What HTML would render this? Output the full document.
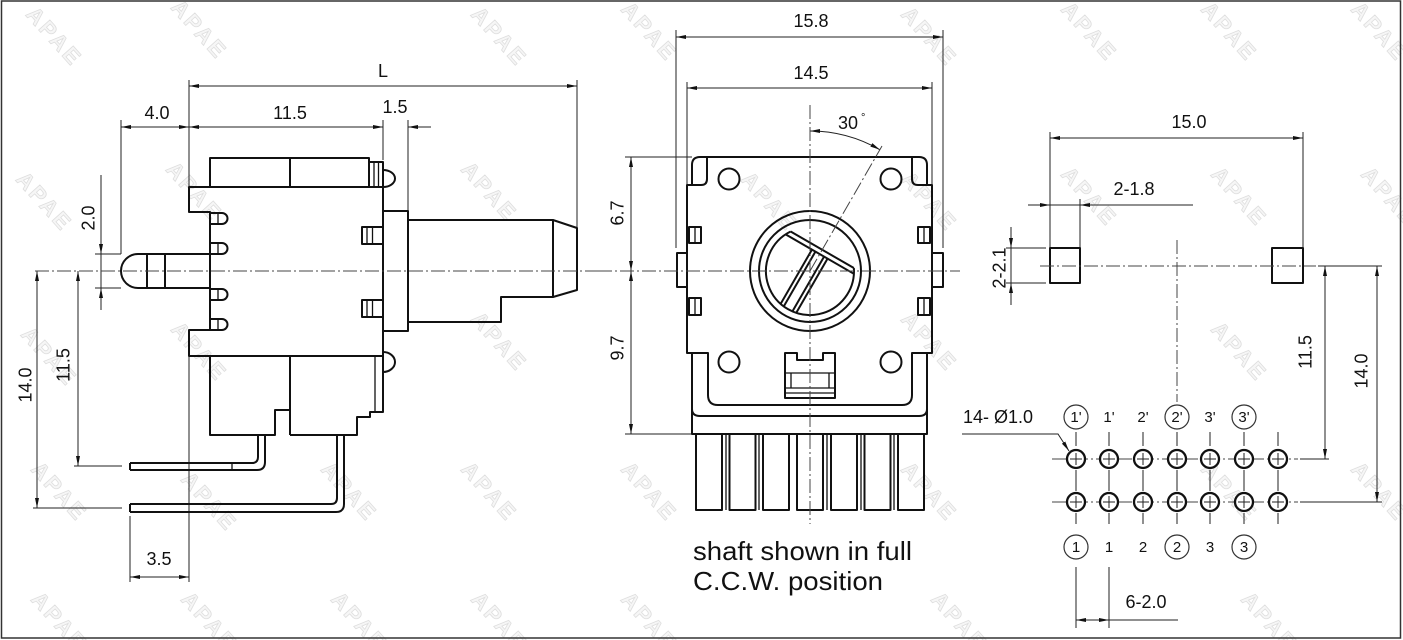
<!DOCTYPE html>
<html><head><meta charset="utf-8"><style>
html,body{margin:0;padding:0;background:#fff;}
svg{display:block;}
text{font-family:"Liberation Sans",Arial,sans-serif;fill:#111;}
.o{stroke:#111;stroke-width:2;fill:none;stroke-linejoin:round;}
.t{stroke:#111;stroke-width:1.3;fill:none;}
.d{stroke:#222;stroke-width:1;fill:none;}
.c{stroke:#444;stroke-width:1;fill:none;stroke-dasharray:14 3 2 3;}
.w{font-size:22px;font-weight:bold;fill:#f6f6f6;stroke:#dedede;stroke-width:0.8;letter-spacing:3px;}
.dim{font-size:18px;}
</style></head><body>
<svg width="1403" height="640" viewBox="0 0 1403 640" xmlns="http://www.w3.org/2000/svg">
<defs>
<marker id="a" viewBox="0 0 10 4" refX="10" refY="2" markerWidth="10" markerHeight="4" markerUnits="userSpaceOnUse" orient="auto-start-reverse" preserveAspectRatio="none"><path d="M0,0 L10,2 L0,4 z" fill="#111"/></marker>
</defs>
<rect width="1403" height="640" fill="#fff"/>

<!-- watermarks -->
<g>
<text class="w" transform="translate(25,15) rotate(48)">APAE</text>
<text class="w" transform="translate(170,8) rotate(48)">APAE</text>
<text class="w" transform="translate(470,15) rotate(48)">APAE</text>
<text class="w" transform="translate(620,10) rotate(48)">APAE</text>
<text class="w" transform="translate(900,15) rotate(48)">APAE</text>
<text class="w" transform="translate(1060,10) rotate(48)">APAE</text>
<text class="w" transform="translate(1200,10) rotate(48)">APAE</text>
<text class="w" transform="translate(1350,10) rotate(48)">APAE</text>
<text class="w" transform="translate(15,180) rotate(48)">APAE</text>
<text class="w" transform="translate(165,170) rotate(48)">APAE</text>
<text class="w" transform="translate(460,170) rotate(48)">APAE</text>
<text class="w" transform="translate(740,180) rotate(48)">APAE</text>
<text class="w" transform="translate(900,180) rotate(48)">APAE</text>
<text class="w" transform="translate(1060,175) rotate(48)">APAE</text>
<text class="w" transform="translate(1210,175) rotate(48)">APAE</text>
<text class="w" transform="translate(1360,175) rotate(48)">APAE</text>
<text class="w" transform="translate(20,335) rotate(48)">APAE</text>
<text class="w" transform="translate(170,330) rotate(48)">APAE</text>
<text class="w" transform="translate(470,320) rotate(48)">APAE</text>
<text class="w" transform="translate(900,320) rotate(48)">APAE</text>
<text class="w" transform="translate(1210,330) rotate(48)">APAE</text>
<text class="w" transform="translate(30,470) rotate(48)">APAE</text>
<text class="w" transform="translate(180,480) rotate(48)">APAE</text>
<text class="w" transform="translate(320,470) rotate(48)">APAE</text>
<text class="w" transform="translate(460,470) rotate(48)">APAE</text>
<text class="w" transform="translate(620,470) rotate(48)">APAE</text>
<text class="w" transform="translate(900,470) rotate(48)">APAE</text>
<text class="w" transform="translate(1200,470) rotate(48)">APAE</text>
<text class="w" transform="translate(1350,470) rotate(48)">APAE</text>
<text class="w" transform="translate(30,600) rotate(48)">APAE</text>
<text class="w" transform="translate(180,600) rotate(48)">APAE</text>
<text class="w" transform="translate(330,600) rotate(48)">APAE</text>
<text class="w" transform="translate(470,600) rotate(48)">APAE</text>
<text class="w" transform="translate(620,600) rotate(48)">APAE</text>
<text class="w" transform="translate(930,600) rotate(48)">APAE</text>
<text class="w" transform="translate(1240,600) rotate(48)">APAE</text>
</g>

<!-- border -->
<rect x="1.5" y="1" width="1399" height="637" fill="none" stroke="#333" stroke-width="1.5"/>

<!-- ================= LEFT VIEW ================= -->
<line class="d" x1="121" y1="120" x2="121" y2="254"/>
<line class="d" x1="189" y1="80" x2="189" y2="212"/>
<line class="d" x1="189" y1="330" x2="189" y2="582"/>
<line class="d" x1="383" y1="120" x2="383" y2="160"/>
<line class="d" x1="408" y1="120" x2="408" y2="211"/>
<line class="d" x1="577" y1="80" x2="577" y2="228"/>
<line class="d" x1="189" y1="86" x2="577" y2="86" marker-start="url(#a)" marker-end="url(#a)"/>
<text class="dim" x="383" y="77" text-anchor="middle">L</text>
<line class="d" x1="121" y1="127" x2="189" y2="127" marker-start="url(#a)" marker-end="url(#a)"/>
<text class="dim" x="157" y="119" text-anchor="middle">4.0</text>
<line class="d" x1="189" y1="127" x2="383" y2="127" marker-start="url(#a)" marker-end="url(#a)"/>
<text class="dim" x="290" y="119" text-anchor="middle">11.5</text>
<line class="d" x1="431" y1="127" x2="408" y2="127" marker-end="url(#a)"/>
<text class="dim" x="395" y="113" text-anchor="middle">1.5</text>

<line class="d" x1="95" y1="254" x2="121" y2="254"/>
<line class="d" x1="95" y1="288" x2="121" y2="288"/>
<line class="d" x1="101" y1="175" x2="101" y2="254" marker-end="url(#a)"/>
<line class="d" x1="101" y1="310" x2="101" y2="288" marker-end="url(#a)"/>
<line class="d" x1="101" y1="254" x2="101" y2="288"/>
<text class="dim" transform="translate(88,218) rotate(-90)" y="6.5" text-anchor="middle">2.0</text>
<line class="d" x1="78" y1="271" x2="78" y2="466" marker-start="url(#a)" marker-end="url(#a)"/>
<line class="d" x1="37" y1="271" x2="37" y2="508" marker-start="url(#a)" marker-end="url(#a)"/>
<line class="d" x1="74" y1="466" x2="122" y2="466"/>
<line class="d" x1="33" y1="508" x2="122" y2="508"/>
<text class="dim" transform="translate(63,365) rotate(-90)" y="6.5" text-anchor="middle">11.5</text>
<text class="dim" transform="translate(25,385) rotate(-90)" y="6.5" text-anchor="middle">14.0</text>
<line class="d" x1="130" y1="516" x2="130" y2="582"/>
<line class="d" x1="130" y1="577" x2="189" y2="577" marker-start="url(#a)" marker-end="url(#a)"/>
<text class="dim" x="159" y="565" text-anchor="middle">3.5</text>

<rect class="o" x="210" y="158" width="159" height="29"/>
<line class="o" x1="290" y1="158" x2="290" y2="187"/>
<rect class="o" x="369" y="162" width="14" height="25"/>
<line class="t" x1="374" y1="162" x2="374" y2="187"/>
<line class="t" x1="378.5" y1="162" x2="378.5" y2="187"/>
<path class="o" d="M383 170 A12 8.5 0 0 1 383 187"/>
<path class="o" d="M383 187 L189 187 L189 212 L210 212 L210 330 L189 330 L189 356 L383 356 Z"/>
<g class="o">
<path d="M210 213 H222 A5.5 5.5 0 0 1 222 224 H210"/>
<path d="M210 243 H222 A5.5 5.5 0 0 1 222 254 H210"/>
<path d="M210 289 H222 A5.5 5.5 0 0 1 222 300 H210"/>
<path d="M210 319 H222 A5.5 5.5 0 0 1 222 330 H210"/>
</g>
<g class="t">
<line x1="218" y1="213" x2="218" y2="224"/><line x1="218" y1="243" x2="218" y2="254"/>
<line x1="218" y1="289" x2="218" y2="300"/><line x1="218" y1="319" x2="218" y2="330"/>
</g>
<path class="o" d="M165 254 L138 254 A17 17 0 0 0 138 288 L165 288 Z"/>
<line class="o" x1="147" y1="254" x2="147" y2="288"/>
<line class="o" x1="165" y1="254" x2="210" y2="254"/>
<line class="o" x1="165" y1="288" x2="210" y2="288"/>
<rect class="o" x="362" y="227" width="21" height="17"/>
<line class="t" x1="367" y1="227" x2="367" y2="244"/><line class="t" x1="372.5" y1="227" x2="372.5" y2="244"/>
<rect class="o" x="362" y="300" width="21" height="17"/>
<line class="t" x1="367" y1="300" x2="367" y2="317"/><line class="t" x1="372.5" y1="300" x2="372.5" y2="317"/>
<rect class="o" x="383" y="211" width="25" height="120"/>
<path class="o" d="M408 220 L553 220 L577 228 L577 290 L553 297 L501 297 L501 322 L408 322"/>
<line class="o" x1="553" y1="220" x2="553" y2="297"/>
<path class="o" d="M210 356 L210 435 L275 435 L275 410 L290 410"/>
<line class="o" x1="290" y1="356" x2="290" y2="435"/>
<path class="o" d="M290 435 L357 435 L357 417 L370 417 L370 412 L383 412 L383 356"/>
<line class="t" x1="375" y1="356" x2="375" y2="412"/>
<path class="o" d="M383 352 A12 10 0 0 1 383 372"/>
<path class="o" d="M130 463 L252 463 Q258 463 258 457 L258 435"/>
<path class="o" d="M130 470 L257 470 Q265 470 265 462 L265 435"/>
<line class="o" x1="130" y1="463" x2="130" y2="470"/>
<line class="t" x1="232" y1="463" x2="232" y2="470"/>
<path class="o" d="M130 504 L331 504 Q337 504 337 498 L337 435"/>
<path class="o" d="M130 512 L336 512 Q344 512 344 504 L344 435"/>
<line class="o" x1="130" y1="504" x2="130" y2="512"/>
<line class="c" x1="35" y1="271" x2="600" y2="271"/>

<!-- ================= MIDDLE VIEW ================= -->
<line class="d" x1="676" y1="30" x2="676" y2="248"/>
<line class="d" x1="943" y1="30" x2="943" y2="248"/>
<line class="d" x1="687" y1="82" x2="687" y2="185"/>
<line class="d" x1="932" y1="82" x2="932" y2="185"/>
<line class="d" x1="676" y1="37" x2="943" y2="37" marker-start="url(#a)" marker-end="url(#a)"/>
<text class="dim" x="811" y="27" text-anchor="middle">15.8</text>
<line class="d" x1="687" y1="88" x2="932" y2="88" marker-start="url(#a)" marker-end="url(#a)"/>
<text class="dim" x="811" y="79" text-anchor="middle">14.5</text>
<line class="d" x1="625" y1="157" x2="692" y2="157"/>
<line class="d" x1="625" y1="434" x2="692" y2="434"/>
<line class="d" x1="631" y1="157" x2="631" y2="271" marker-start="url(#a)" marker-end="url(#a)"/>
<line class="d" x1="631" y1="271" x2="631" y2="434" marker-start="url(#a)" marker-end="url(#a)"/>
<text class="dim" transform="translate(617,213) rotate(-90)" y="6.5" text-anchor="middle">6.7</text>
<text class="dim" transform="translate(617,348) rotate(-90)" y="6.5" text-anchor="middle">9.7</text>
<path class="d" d="M810 131 A140 140 0 0 1 880 149.8" marker-start="url(#a)" marker-end="url(#a)"/>
<text class="dim" x="848" y="129" text-anchor="middle">30</text>
<text x="861" y="121" style="font-size:11px">°</text>

<path class="o" d="M692 434 L692 353 L687 353 L687 185 L692 185 L692 165 Q692 157 700 157 L919 157 Q927 157 927 165 L927 185 L932 185 L932 353 L927 353 L927 434 Z"/>
<path class="o" d="M707 157 L707 179 Q707 185 701 185 L692 185"/>
<path class="o" d="M912 157 L912 179 Q912 185 918 185 L927 185"/>
<path class="o" d="M687 353 L708 353 L708 395 Q708 405 718 405 L902 405 Q912 405 912 395 L912 353 L932 353"/>
<path class="o" d="M692 409 Q692 416 700 416 L919 416 Q927 416 927 409"/>
<rect class="o" x="677" y="253" width="10" height="34"/>
<rect class="o" x="932" y="253" width="11" height="34"/>
<rect class="o" x="689" y="227" width="12" height="16"/><line class="t" x1="695" y1="227" x2="695" y2="243"/>
<rect class="o" x="689" y="298" width="12" height="17"/><line class="t" x1="695" y1="298" x2="695" y2="315"/>
<rect class="o" x="918" y="227" width="12" height="16"/><line class="t" x1="924" y1="227" x2="924" y2="243"/>
<rect class="o" x="918" y="298" width="12" height="17"/><line class="t" x1="924" y1="298" x2="924" y2="315"/>
<circle class="o" cx="729" cy="179" r="10.5"/>
<circle class="o" cx="891" cy="179" r="10.5"/>
<circle class="o" cx="729" cy="362" r="10.5"/>
<circle class="o" cx="891" cy="362" r="10.5"/>
<circle class="o" cx="810" cy="271" r="60"/>
<circle class="o" cx="810" cy="271" r="51"/>
<g transform="translate(810,271) rotate(30)">
<path class="o" d="M-36.5 -24.5 A44 44 0 1 0 36.5 -24.5"/>
<line class="o" x1="-36.5" y1="-24.5" x2="36.5" y2="-24.5"/>
<line class="o" x1="-39.4" y1="-19.5" x2="39.4" y2="-19.5"/>
<line class="o" x1="-9" y1="-19.5" x2="-9" y2="43"/>
<line class="o" x1="-5" y1="-19.5" x2="-5" y2="43.5"/>
<line class="o" x1="5" y1="-19.5" x2="5" y2="43.5"/>
<line class="o" x1="9" y1="-19.5" x2="9" y2="43"/>
</g>
<path class="o" d="M785 398 L785 353 L797 353 L797 360 L823 360 L823 353 L835 353 L835 398 Z"/>
<line class="t" x1="786" y1="373" x2="834" y2="373"/>
<line class="t" x1="786" y1="388" x2="834" y2="388"/>
<line class="t" x1="786" y1="393" x2="834" y2="393"/>
<line class="t" x1="791" y1="373" x2="791" y2="388"/>
<line class="t" x1="829" y1="373" x2="829" y2="388"/>
<g class="o">
<rect x="696" y="434" width="26" height="76"/>
<rect x="729.5" y="434" width="26" height="76"/>
<rect x="763" y="434" width="26" height="76"/>
<rect x="797" y="434" width="26" height="76"/>
<rect x="831" y="434" width="26" height="76"/>
<rect x="864.5" y="434" width="26" height="76"/>
<rect x="898" y="434" width="26" height="76"/>
</g>
<g class="t">
<line x1="726" y1="434" x2="726" y2="510"/>
<line x1="759" y1="434" x2="759" y2="510"/>
<line x1="827" y1="434" x2="827" y2="510"/>
<line x1="861" y1="434" x2="861" y2="510"/>
<line x1="894" y1="434" x2="894" y2="510"/>
</g>
<line class="c" x1="598" y1="271" x2="960" y2="271"/>
<line class="c" x1="810" y1="105" x2="810" y2="524"/>
<line class="c" x1="810" y1="271" x2="882" y2="146"/>
<text x="693" y="560" style="font-size:26px" textLength="219" lengthAdjust="spacingAndGlyphs">shaft shown in full</text>
<text x="693" y="590" style="font-size:26px" textLength="190" lengthAdjust="spacingAndGlyphs">C.C.W. position</text>

<!-- ================= RIGHT VIEW ================= -->
<line class="d" x1="1050" y1="132" x2="1050" y2="248"/>
<line class="d" x1="1303" y1="132" x2="1303" y2="248"/>
<line class="d" x1="1050" y1="138" x2="1303" y2="138" marker-start="url(#a)" marker-end="url(#a)"/>
<text class="dim" x="1189" y="128" text-anchor="middle">15.0</text>
<line class="d" x1="1080" y1="199" x2="1080" y2="248"/>
<line class="d" x1="1028" y1="205" x2="1050" y2="205" marker-end="url(#a)"/>
<line class="d" x1="1193" y1="205" x2="1080" y2="205" marker-end="url(#a)"/>
<line class="d" x1="1050" y1="205" x2="1080" y2="205"/>
<text class="dim" x="1134" y="195" text-anchor="middle">2-1.8</text>
<rect class="o" x="1050" y="248" width="30" height="35"/>
<rect class="o" x="1272" y="248" width="31" height="35"/>
<line class="d" x1="1006" y1="248" x2="1046" y2="248"/>
<line class="d" x1="1006" y1="283" x2="1046" y2="283"/>
<line class="d" x1="1011" y1="227" x2="1011" y2="248" marker-end="url(#a)"/>
<line class="d" x1="1011" y1="305" x2="1011" y2="283" marker-end="url(#a)"/>
<line class="d" x1="1011" y1="248" x2="1011" y2="283"/>
<text class="dim" transform="translate(999,268) rotate(-90)" y="6.5" text-anchor="middle">2-2.1</text>
<line class="c" x1="1040" y1="266" x2="1316" y2="266"/>
<line class="d" x1="1318" y1="266" x2="1382" y2="266"/>
<line class="c" x1="1177" y1="240" x2="1177" y2="402"/>
<line class="d" x1="1325" y1="266" x2="1325" y2="459" marker-start="url(#a)" marker-end="url(#a)"/>
<line class="d" x1="1377" y1="266" x2="1377" y2="502" marker-start="url(#a)" marker-end="url(#a)"/>
<text class="dim" transform="translate(1305,352) rotate(-90)" y="6.5" text-anchor="middle">11.5</text>
<text class="dim" transform="translate(1361,371) rotate(-90)" y="6.5" text-anchor="middle">14.0</text>
<line class="c" x1="1052" y1="459" x2="1298" y2="459"/>
<line class="d" x1="1300" y1="459" x2="1329" y2="459"/>
<line class="c" x1="1052" y1="502" x2="1298" y2="502"/>
<line class="d" x1="1300" y1="502" x2="1382" y2="502"/>
<g>
<g class="d">
<line x1="1076" y1="432" x2="1076" y2="446"/><line x1="1076" y1="470" x2="1076" y2="491"/><line x1="1076" y1="513" x2="1076" y2="524"/>
<line x1="1109" y1="432" x2="1109" y2="446"/><line x1="1109" y1="470" x2="1109" y2="491"/><line x1="1109" y1="513" x2="1109" y2="524"/>
<line x1="1143" y1="432" x2="1143" y2="446"/><line x1="1143" y1="470" x2="1143" y2="491"/><line x1="1143" y1="513" x2="1143" y2="524"/>
<line x1="1177" y1="432" x2="1177" y2="446"/><line x1="1177" y1="470" x2="1177" y2="491"/><line x1="1177" y1="513" x2="1177" y2="524"/>
<line x1="1210" y1="432" x2="1210" y2="446"/><line x1="1210" y1="470" x2="1210" y2="491"/><line x1="1210" y1="513" x2="1210" y2="524"/>
<line x1="1244" y1="432" x2="1244" y2="446"/><line x1="1244" y1="470" x2="1244" y2="491"/><line x1="1244" y1="513" x2="1244" y2="524"/>
<line x1="1278" y1="432" x2="1278" y2="446"/><line x1="1278" y1="470" x2="1278" y2="491"/><line x1="1278" y1="513" x2="1278" y2="524"/>
</g>
<g fill="#fff" stroke="#111" stroke-width="2.3">
<circle cx="1076" cy="459" r="9"/><circle cx="1109" cy="459" r="9"/><circle cx="1143" cy="459" r="9"/><circle cx="1177" cy="459" r="9"/><circle cx="1210" cy="459" r="9"/><circle cx="1244" cy="459" r="9"/><circle cx="1278" cy="459" r="9"/>
<circle cx="1076" cy="502" r="9"/><circle cx="1109" cy="502" r="9"/><circle cx="1143" cy="502" r="9"/><circle cx="1177" cy="502" r="9"/><circle cx="1210" cy="502" r="9"/><circle cx="1244" cy="502" r="9"/><circle cx="1278" cy="502" r="9"/>
</g>
<g class="d">
<path d="M1070 459 H1082 M1076 453 V465 M1103 459 H1115 M1109 453 V465 M1137 459 H1149 M1143 453 V465 M1171 459 H1183 M1177 453 V465 M1204 459 H1216 M1210 453 V465 M1238 459 H1250 M1244 453 V465 M1272 459 H1284 M1278 453 V465"/>
<path d="M1070 502 H1082 M1076 496 V508 M1103 502 H1115 M1109 496 V508 M1137 502 H1149 M1143 496 V508 M1171 502 H1183 M1177 496 V508 M1204 502 H1216 M1210 496 V508 M1238 502 H1250 M1244 496 V508 M1272 502 H1284 M1278 496 V508"/>
</g>
</g>
<g fill="none" stroke="#333" stroke-width="1.2">
<circle cx="1076" cy="417" r="12"/><circle cx="1177" cy="417" r="12"/><circle cx="1244" cy="417" r="12"/>
<circle cx="1076" cy="547" r="12"/><circle cx="1177" cy="547" r="12"/><circle cx="1244" cy="547" r="12"/>
</g>
<g style="font-size:15px" text-anchor="middle">
<text x="1076" y="422">1'</text><text x="1109" y="422">1'</text><text x="1143" y="422">2'</text>
<text x="1177" y="422">2'</text><text x="1210" y="422">3'</text><text x="1244" y="422">3'</text>
<text x="1076" y="552">1</text><text x="1109" y="552">1</text><text x="1143" y="552">2</text>
<text x="1177" y="552">2</text><text x="1210" y="552">3</text><text x="1244" y="552">3</text>
</g>
<text class="dim" x="963" y="423">14- Ø1.0</text>
<polyline class="d" points="962,434 1058,434 1069,451" marker-end="url(#a)"/>
<line class="d" x1="1076" y1="567" x2="1076" y2="628"/>
<line class="d" x1="1109" y1="567" x2="1109" y2="628"/>
<line class="d" x1="1076" y1="620" x2="1109" y2="620" marker-start="url(#a)" marker-end="url(#a)"/>
<line class="d" x1="1109" y1="620" x2="1178" y2="620"/>
<text class="dim" x="1146" y="608" text-anchor="middle">6-2.0</text>
</svg>
</body></html>
